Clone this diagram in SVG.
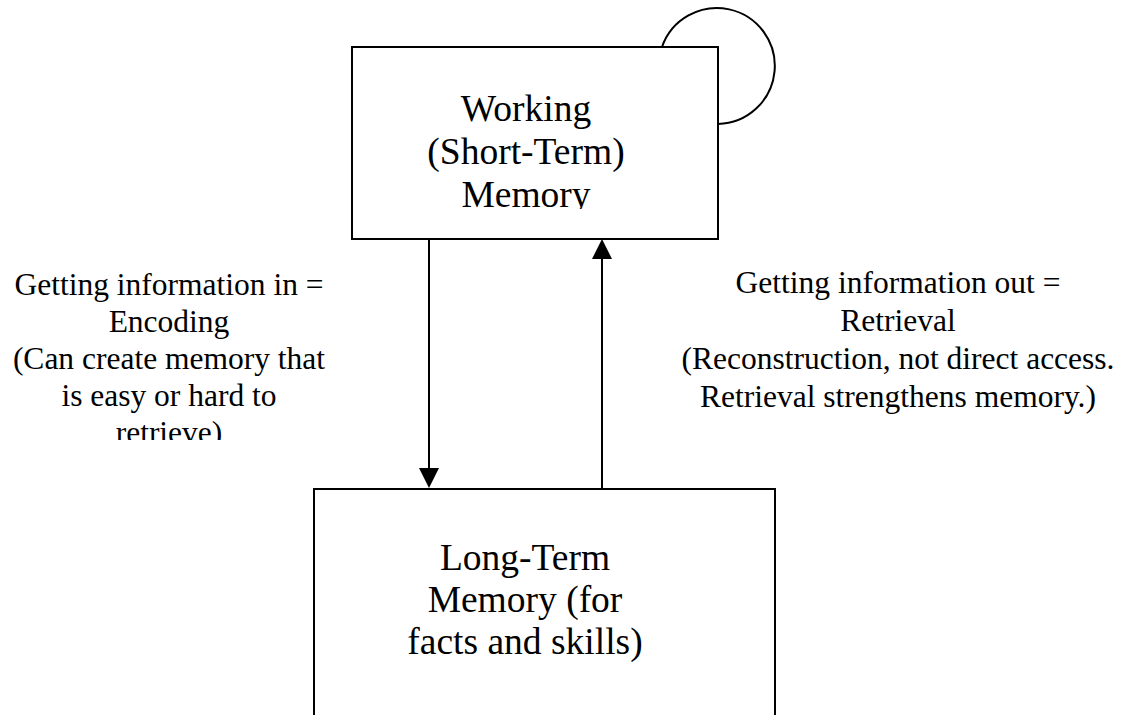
<svg xmlns="http://www.w3.org/2000/svg" width="1144" height="715" viewBox="0 0 1144 715">
<style>
.box{fill:#fff;stroke:#000;stroke-width:2}
.loop{fill:none;stroke:#000;stroke-width:2}
.conn{stroke:#000;stroke-width:2;fill:none}
.head{fill:#000}
.big{font-family:"Liberation Serif","Times New Roman",serif;font-size:37.5px;fill:#000;text-anchor:middle}
.lab{font-family:"Liberation Serif","Times New Roman",serif;font-size:31.5px;fill:#000;text-anchor:middle}
</style>
<defs>
<clipPath id="clipWM"><rect x="352" y="47" width="366" height="162"/></clipPath>
<clipPath id="clipEnc"><rect x="0" y="260" width="360" height="180"/></clipPath>
</defs>
<rect width="1144" height="715" fill="#fff"/>
<g id="connectors">
<path class="loop" d="M662,47 A58,58 0 1 1 718,124"/>
<line class="conn" x1="429" y1="239" x2="429" y2="470"/>
<polygon class="head" points="419,468 439,468 429,488"/>
<line class="conn" x1="602" y1="489" x2="602" y2="257"/>
<polygon class="head" points="592,259 612,259 602,239"/>
</g>
<g id="working-memory">
<rect class="box" x="352" y="47" width="366" height="192"/>
<g clip-path="url(#clipWM)">
<text class="big" x="526" y="121">Working</text>
<text class="big" x="526" y="164">(Short-Term)</text>
<text class="big" x="526" y="207">Memory</text>
</g>
</g>
<g id="long-term-memory">
<rect class="box" x="314" y="489" width="461" height="240"/>
<text class="big" x="525" y="570">Long-Term</text>
<text class="big" x="525" y="612">Memory (for</text>
<text class="big" x="525" y="654">facts and skills)</text>
</g>
<g id="encoding-label" clip-path="url(#clipEnc)">
<text class="lab" x="169" y="295">Getting information in =</text>
<text class="lab" x="169" y="332">Encoding</text>
<text class="lab" x="169" y="369">(Can create memory that</text>
<text class="lab" x="169" y="406">is easy or hard to</text>
<text class="lab" x="169" y="443">retrieve)</text>
</g>
<g id="retrieval-label">
<text class="lab" x="898" y="293">Getting information out =</text>
<text class="lab" x="898" y="331">Retrieval</text>
<text class="lab" x="898" y="369">(Reconstruction, not direct access.</text>
<text class="lab" x="898" y="407">Retrieval strengthens memory.)</text>
</g>
</svg>
